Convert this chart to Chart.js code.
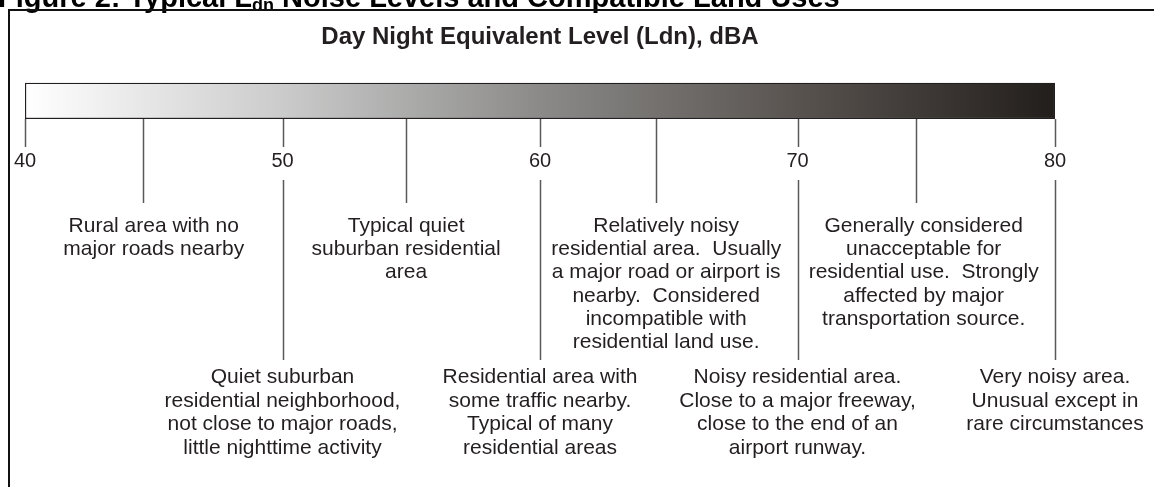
<!DOCTYPE html>
<html>
<head>
<meta charset="utf-8">
<script src="https://cdn.jsdelivr.net/npm/chart.js@4.4.1/dist/chart.umd.min.js"></script>
<style>
  html, body { margin: 0; padding: 0; background: #ffffff; }
  #wrap { width: 1154px; height: 487px; position: relative; }
</style>
</head>
<body>
<div id="wrap"><canvas id="ldnChart"></canvas></div>
<script>
// scale of the figure, dBA
let scaleRange = [40, 80];
let tickLevels = [40, 50, 60, 70, 80];

// short leader lines (as drawn) and where their notes are centred
let upperLineLevels = [44.6, 54.8, 64.5, 74.6];
let upperNoteLevels = [45, 54.8, 64.9, 74.9];
let upperNotes = [
    ["Rural area with no", "major roads nearby"],
    ["Typical quiet", "suburban residential", "area"],
    ["Relatively noisy", "residential area.  Usually", "a major road or airport is", "nearby.  Considered", "incompatible with", "residential land use."],
    ["Generally considered", "unacceptable for", "residential use.  Strongly", "affected by major", "transportation source."],
];

// long leader lines at the labelled ticks
let lowerLevels = [50, 60, 70, 80];
let lowerNotes = [
    ["Quiet suburban", "residential neighborhood,", "not close to major roads,", "little nighttime activity"],
    ["Residential area with", "some traffic nearby.", "Typical of many", "residential areas"],
    ["Noisy residential area.", "Close to a major freeway,", "close to the end of an", "airport runway."],
    ["Very noisy area.", "Unusual except in", "rare circumstances"],
];

const ink = "#231f20";
const noteFont = "21px 'Liberation Sans', Arial, sans-serif";
const tickFont = "20px 'Liberation Sans', Arial, sans-serif";

const framePlugin = {
    id: "frame",
    beforeDraw(chart) {
        const c = chart.ctx;
        c.save();
        // figure caption, cut off by the top edge
        c.fillStyle = "#000000";
        c.textBaseline = "alphabetic";
        c.textAlign = "left";
        let x = -2;
        const y = 7;
        const parts = [
            ["Figure 2: Typical L", "bold 29px 'Liberation Sans', Arial, sans-serif", 0],
            ["dn", "bold 18px 'Liberation Sans', Arial, sans-serif", 4],
            [" Noise Levels and Compatible Land Uses", "bold 29px 'Liberation Sans', Arial, sans-serif", 0],
        ];
        parts.forEach(([t, f, dy]) => {
            c.font = f;
            c.fillText(t, x, y + dy);
            x += c.measureText(t).width;
        });
        // frame
        c.strokeStyle = "#111111";
        c.lineWidth = 2;
        c.beginPath();
        c.moveTo(9, 487);
        c.lineTo(9, 10);
        c.lineTo(1154, 10);
        c.stroke();
        c.restore();
    },
};

const leaderPlugin = {
    id: "leaders",
    afterDatasetsDraw(chart) {
        const c = chart.ctx;
        const xs = chart.scales.x;
        const base = chart.chartArea.bottom;
        c.save();
        c.lineWidth = 1.5;
        c.strokeStyle = "#5a5858";

        // labelled ticks
        tickLevels.forEach((v) => {
            const px = Math.round(xs.getPixelForValue(v)) + 0.5;
            c.beginPath();
            c.moveTo(px, base);
            c.lineTo(px, base + 28);
            c.stroke();
        });
        lowerLevels.forEach((v) => {
            const px = Math.round(xs.getPixelForValue(v)) + 0.5;
            c.beginPath();
            c.moveTo(px, base + 61);
            c.lineTo(px, base + 241);
            c.stroke();
        });
        upperLineLevels.forEach((v) => {
            const px = Math.round(xs.getPixelForValue(v)) + 0.5;
            c.beginPath();
            c.moveTo(px, base);
            c.lineTo(px, base + 84);
            c.stroke();
        });

        c.fillStyle = ink;
        c.textAlign = "center";
        c.textBaseline = "alphabetic";
        c.font = tickFont;
        tickLevels.forEach((v) => {
            c.fillText(String(v), xs.getPixelForValue(v), base + 48);
        });
        c.font = noteFont;
        upperNotes.forEach((lines, i) => {
            const px = xs.getPixelForValue(upperNoteLevels[i]);
            lines.forEach((t, j) => c.fillText(t, px, base + 113 + j * 23.2));
        });
        lowerNotes.forEach((lines, i) => {
            const px = xs.getPixelForValue(lowerLevels[i]);
            lines.forEach((t, j) => c.fillText(t, px, base + 264 + j * 23.5));
        });
        c.restore();
    },
};

let ldnCtx = document.getElementById("ldnChart").getContext("2d");
let ldnChart = new Chart(ldnCtx, {
    type: "bar",
    data: {
        labels: ["Ldn"],
        datasets: [
            {
                label: "Day Night Equivalent Level (Ldn), dBA",
                data: [scaleRange],
                backgroundColor: (ctx) => {
                    const chart = ctx.chart;
                    if (!chart.chartArea) return "#888888";
                    const xs = chart.scales.x;
                    const g = chart.ctx.createLinearGradient(
                        xs.getPixelForValue(scaleRange[0]), 0,
                        xs.getPixelForValue(scaleRange[1]), 0
                    );
                    g.addColorStop(0, "#ffffff");
                    g.addColorStop(0.25, "#cbcbcb");
                    g.addColorStop(0.5, "#8b8a89");
                    g.addColorStop(0.75, "#58534f");
                    g.addColorStop(1, "#221e1b");
                    return g;
                },
                borderColor: ink,
                borderWidth: 1.5,
                borderSkipped: false,
                barPercentage: 1,
                categoryPercentage: 1,
            },
        ],
    },
    options: {
        indexAxis: "y",
        responsive: true,
        maintainAspectRatio: false,
        animation: false,
        layout: {
            padding: { left: 25, right: 99, top: 0, bottom: 368 },
        },
        scales: {
            x: {
                type: "linear",
                min: scaleRange[0],
                max: scaleRange[1],
                display: false,
            },
            y: {
                display: false,
            },
        },
        plugins: {
            legend: { display: false },
            tooltip: { enabled: false },
            title: {
                display: true,
                text: "Day Night Equivalent Level (Ldn), dBA",
                color: ink,
                font: { family: "'Liberation Sans', Arial, sans-serif", size: 24, weight: "bold" },
                padding: { top: 23, bottom: 31 },
            },
        },
    },
    plugins: [framePlugin, leaderPlugin],
});
</script>
</body>
</html>
